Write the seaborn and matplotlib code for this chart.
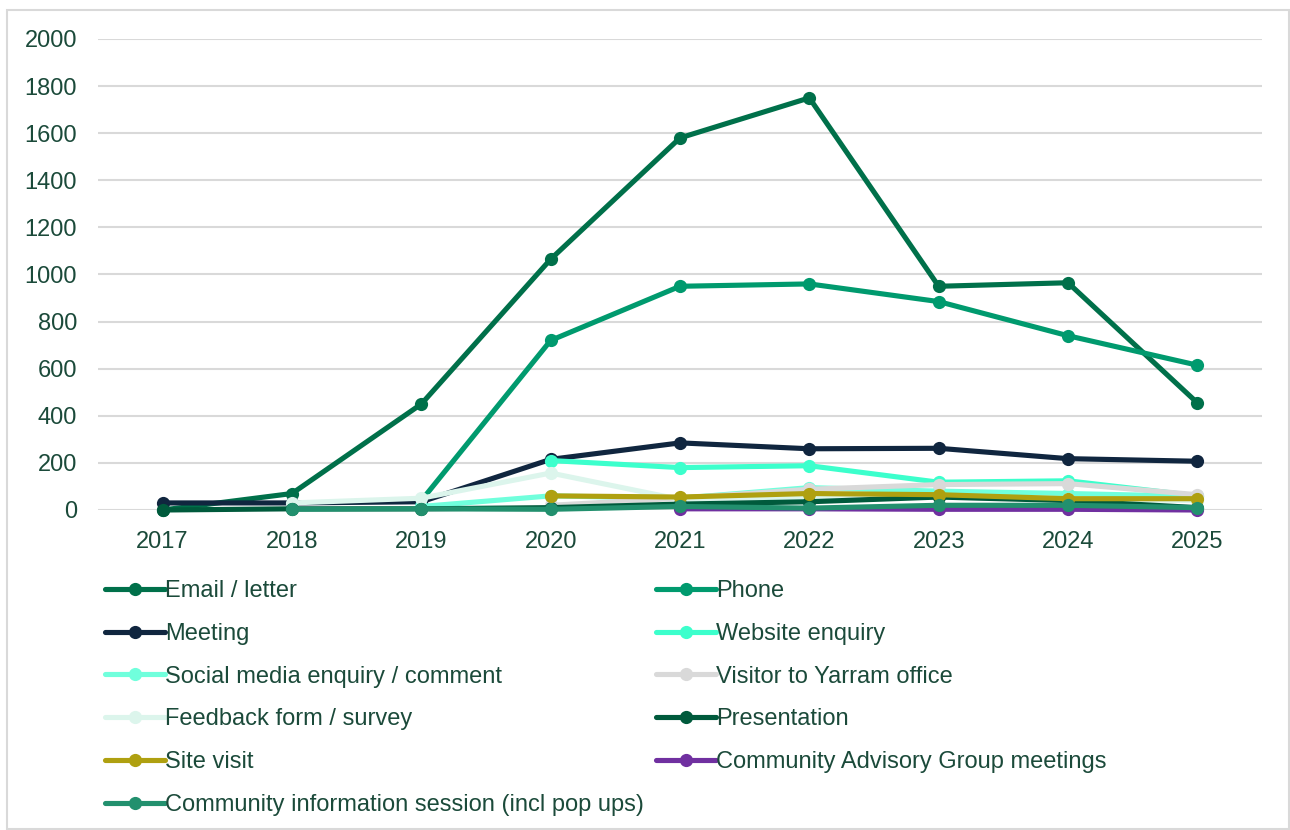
import numpy as np
import pandas as pd
import matplotlib
matplotlib.use("Agg")
import matplotlib.pyplot as plt
from matplotlib.patches import Rectangle
import seaborn as sns

nan = np.nan
years = [2017, 2018, 2019, 2020, 2021, 2022, 2023, 2024, 2025]

email_letter = [0, 70, 450, 1065, 1580, 1750, 950, 965, 455]
phone = [nan, nan, 40, 720, 950, 960, 885, 740, 615]
meeting = [30, 30, 35, 215, 285, 260, 262, 218, 207]
website = [nan, nan, nan, 210, 180, 188, 118, 124, 60]
social_media = [nan, nan, 15, 60, 50, 95, 80, 70, 58]
visitor = [nan, nan, nan, 20, 50, 88, 108, 112, 65]
feedback = [nan, 30, 50, 157, 45, 50, 55, 45, 40]
presentation = [0, 5, 5, 10, 25, 35, 55, 40, 10]
site_visit = [nan, nan, nan, 60, 55, 70, 65, 48, 48]
cag = [nan, nan, nan, nan, 5, 5, 3, 3, 0]
community = [nan, 3, 5, 3, 15, 8, 20, 20, 10]

series = {
    "Email / letter": email_letter,
    "Phone": phone,
    "Meeting": meeting,
    "Website enquiry": website,
    "Social media enquiry / comment": social_media,
    "Visitor to Yarram office": visitor,
    "Feedback form / survey": feedback,
    "Presentation": presentation,
    "Site visit": site_visit,
    "Community Advisory Group meetings": cag,
    "Community information session (incl pop ups)": community,
}
colors = {
    "Email / letter": "#00704A",
    "Phone": "#009A6E",
    "Meeting": "#10263F",
    "Website enquiry": "#3CFFCC",
    "Social media enquiry / comment": "#70FFDC",
    "Visitor to Yarram office": "#D9D9D9",
    "Feedback form / survey": "#DCF5EC",
    "Presentation": "#005A3C",
    "Site visit": "#AFA010",
    "Community Advisory Group meetings": "#7030A0",
    "Community information session (incl pop ups)": "#22906E",
}

rows = []
for name, vals in series.items():
    for y, v in zip(years, vals):
        if not np.isnan(v):
            rows.append({"Year": y, "Value": v, "Series": name})
df = pd.DataFrame(rows)

sns.set_style("white")
plt.rcParams["font.family"] = ["Liberation Sans", "DejaVu Sans"]
text_color = "#1B4A3A"
fs = 17

fig = plt.figure(figsize=(12.9, 8.3), dpi=100)
ax = fig.add_axes([98 / 1290, 1 - 510 / 830, (1262 - 98) / 1290, (510 - 39) / 830])

names = list(series.keys())
sns.lineplot(data=df, x="Year", y="Value", hue="Series", hue_order=names,
             palette=colors, marker="o", markersize=9.5, markeredgewidth=0,
             linewidth=3.7, ax=ax, clip_on=False, legend=True)

ax.set_xlim(2016.5, 2025.5)
ax.set_ylim(0, 2000)
ax.set_yticks(range(0, 2001, 200))
ax.set_xticks(years)
ax.set_xticklabels([str(y) for y in years])
ax.set_xlabel("")
ax.set_ylabel("")
ax.yaxis.grid(True, color="#D9D9D9", linewidth=1.5)
ax.set_axisbelow(True)
for s in ax.spines.values():
    s.set_visible(False)
ax.tick_params(axis="both", length=0, labelsize=fs, colors=text_color)
ax.tick_params(axis="y", pad=15)
ax.tick_params(axis="x", pad=15)

handles, labels = ax.get_legend_handles_labels()
hmap = dict(zip(labels, handles))
order = ["Email / letter", "Meeting", "Social media enquiry / comment",
         "Feedback form / survey", "Site visit",
         "Community information session (incl pop ups)",
         "Phone", "Website enquiry", "Visitor to Yarram office",
         "Presentation", "Community Advisory Group meetings"]
ax.get_legend().remove()
leg = fig.legend([hmap[n] for n in order], order, ncol=2,
                 loc="upper left", bbox_to_anchor=(105 / 1290, 1 - 580 / 830),
                 frameon=False, fontsize=fs, labelcolor=text_color,
                 handlelength=2.55, handletextpad=0.0, labelspacing=0.88,
                 columnspacing=0.5, borderpad=0, borderaxespad=0)

fig.patches.append(Rectangle((7 / 1290, 1 / 830), 1282 / 1290, 819 / 830,
                             transform=fig.transFigure, fill=False,
                             edgecolor="#D9D9D9", linewidth=1.5))

fig.savefig("out.png", dpi=100)
